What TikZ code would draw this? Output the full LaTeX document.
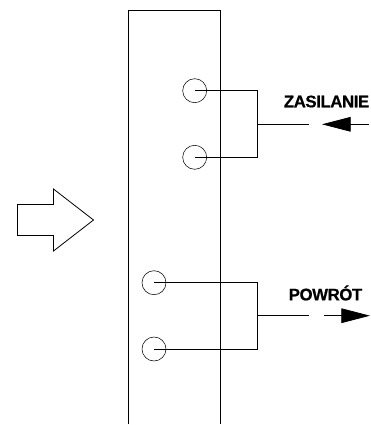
\documentclass[tikz,border=0pt]{standalone}
\usepackage{fontspec}
\setmainfont{Liberation Sans}
\newfontfamily\labelfont[FakeBold=0.6,LetterSpace=-2.5]{Liberation Sans Bold}
\usetikzlibrary{arrows.meta}
\tikzset{
    port/.style={shape=circle,draw=black,minimum size=18pt,inner sep=0pt},
    pipe/.style={draw=black,line width=0.6pt},
    flowtip/.style={-{Triangle[length=21.5pt,width=11pt]}},
    caption/.style={font=\fontsize{12.6}{12.6}\selectfont\labelfont,inner sep=0pt}
}
\begin{document}
\begin{tikzpicture}[x=0.75pt,y=-0.75pt]
                \useasboundingbox (0,0) rectangle (371,425);

                % panel
                \coordinate (p1) at (128.5,424);
                \coordinate (p2) at (128.5,10);
                \coordinate (p3) at (220,10);
                \coordinate (p4) at (220,424);
                \draw[pipe] (p1) -- (p2) -- (p3) -- (p4);

                % block arrow
                \draw[pipe] (17.5,204.5) -- (53.5,204.5) -- (53.5,189) -- (93.5,220)
                    -- (53.5,251) -- (53.5,235.5) -- (17.5,235.5) -- cycle;

                \node[port] (1) at (194.7,90.7) {};
                \node[port] (2) at (194.7,157.3) {};
                \node[port] (3) at (154,282.7) {};
                \node[port] (4) at (154,349) {};

                \coordinate (a1) at (257.7,90.7);
                \coordinate (a2) at (257.7,157.3);
                \coordinate (a3) at (257.7,124.3);
                \coordinate (a4) at (309,124.3);
                \coordinate (a5) at (369,124.3);
                \coordinate (a6) at (322,124.3);

                \coordinate (b1) at (257.7,282.7);
                \coordinate (b2) at (257.7,349);
                \coordinate (b3) at (257.7,315.7);
                \coordinate (b4) at (309,315.7);
                \coordinate (b5) at (324,315.7);
                \coordinate (b6) at (370,315.7);

                \draw[pipe] (1.center) -- (a1) -- (a2) -- (2.center);
                \draw[pipe] (a3) -- (a4);
                \draw[pipe,flowtip] (a5) -- (a6);

                \draw[pipe] (3.center) -- (b1) -- (b2) -- (4.center);
                \draw[pipe] (b3) -- (b4);
                \draw[pipe,flowtip] (b5) -- (b6);

                \node[caption] (z) at (326.5,101.5) {ZASILANIE};
                \node[caption] (r) at (325.5,293) {POWRÓT};
            \end{tikzpicture}
\end{document}
